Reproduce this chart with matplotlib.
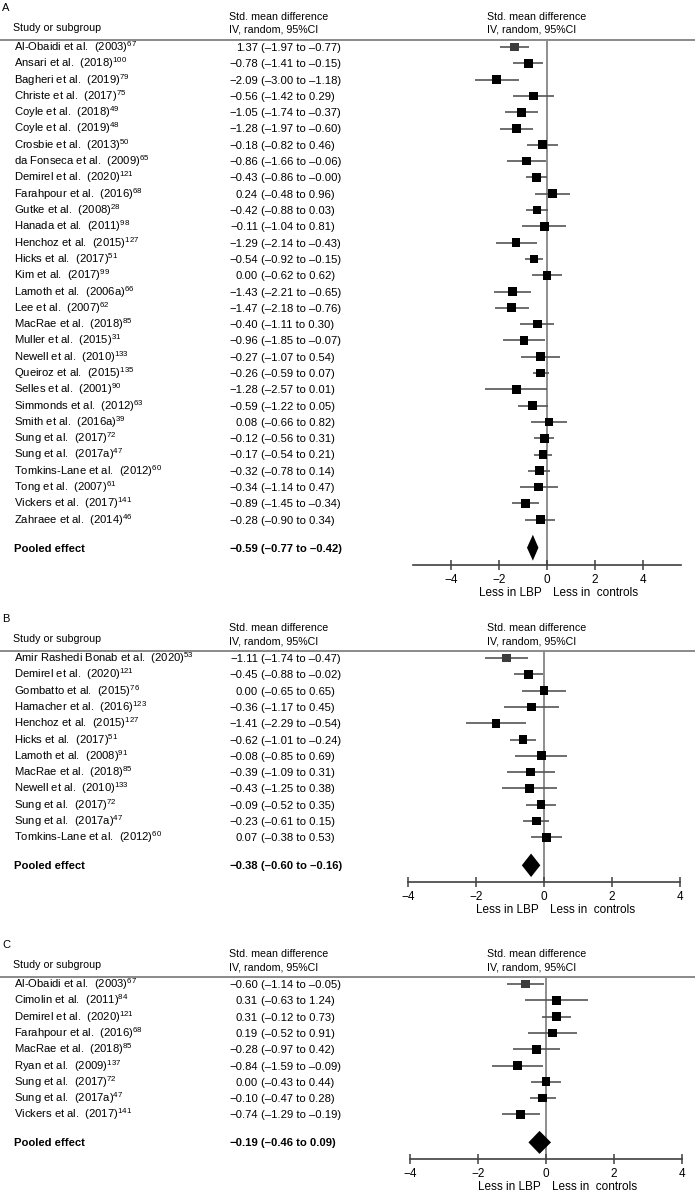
import math
import matplotlib
matplotlib.use("Agg")
import matplotlib.pyplot as plt
from matplotlib.transforms import blended_transform_factory
from matplotlib.patches import Polygon

plt.rcParams['font.family'] = ['Liberation Sans', 'DejaVu Sans']
plt.rcParams['mathtext.fontset'] = 'custom'
plt.rcParams['mathtext.rm'] = 'Liberation Sans'
plt.rcParams['mathtext.it'] = 'Liberation Sans:italic'
plt.rcParams['mathtext.bf'] = 'Liberation Sans:bold'

# ---------------- data ----------------
a_studies = ["Al-Obaidi et al.  (2003)", "Ansari et al.  (2018)", "Bagheri et al.  (2019)",
             "Christe et al.  (2017)", "Coyle et al.  (2018)", "Coyle et al.  (2019)",
             "Crosbie et al.  (2013)", "da Fonseca et al.  (2009)", "Demirel et al.  (2020)",
             "Farahpour et al.  (2016)", "Gutke et al.  (2008)", "Hanada et al.  (2011)",
             "Henchoz et al.  (2015)", "Hicks et al.  (2017)", "Kim et al.  (2017)",
             "Lamoth et al.  (2006a)", "Lee et al.  (2007)", "MacRae et al.  (2018)",
             "Muller et al.  (2015)", "Newell et al.  (2010)", "Queiroz et al.  (2015)",
             "Selles et al.  (2001)", "Simmonds et al.  (2012)", "Smith et al.  (2016a)",
             "Sung et al.  (2017)", "Sung et al.  (2017a)", "Tomkins-Lane et al.  (2012)",
             "Tong et al.  (2007)", "Vickers et al.  (2017)", "Zahraee et al.  (2014)"]
a_refs = [67, 100, 79, 75, 49, 48, 50, 65, 121, 68, 28, 98, 127, 51, 99, 66, 62, 85, 31, 133,
          135, 90, 63, 39, 72, 47, 60, 61, 141, 46]
a_est = [-1.37, -0.78, -2.09, -0.56, -1.05, -1.28, -0.18, -0.86, -0.43, 0.24, -0.42, -0.11,
         -1.29, -0.54, 0.00, -1.43, -1.47, -0.40, -0.96, -0.27, -0.26, -1.28, -0.59, 0.08,
         -0.12, -0.17, -0.32, -0.34, -0.89, -0.28]
a_lo = [-1.97, -1.41, -3.00, -1.42, -1.74, -1.97, -0.82, -1.66, -0.86, -0.48, -0.88, -1.04,
        -2.14, -0.92, -0.62, -2.21, -2.18, -1.11, -1.85, -1.07, -0.59, -2.57, -1.22, -0.66,
        -0.56, -0.54, -0.78, -1.14, -1.45, -0.90]
a_hi = [-0.77, -0.15, -1.18, 0.29, -0.37, -0.60, 0.46, -0.06, -0.0, 0.96, 0.03, 0.81,
        -0.43, -0.15, 0.62, -0.65, -0.76, 0.30, -0.07, 0.54, 0.07, 0.01, 0.05, 0.82,
        0.31, 0.21, 0.14, 0.47, -0.34, 0.34]
a_est_text_override = {0: "1.37"}   # as printed in the original table
a_pooled = (-0.59, -0.77, -0.42)

b_studies = ["Amir Rashedi Bonab et al.  (2020)", "Demirel et al.  (2020)", "Gombatto et al.  (2015)",
             "Hamacher et al.  (2016)", "Henchoz et al.  (2015)", "Hicks et al.  (2017)",
             "Lamoth et al.  (2008)", "MacRae et al.  (2018)", "Newell et al.  (2010)",
             "Sung et al.  (2017)", "Sung et al.  (2017a)", "Tomkins-Lane et al.  (2012)"]
b_refs = [53, 121, 76, 123, 127, 51, 91, 85, 133, 72, 47, 60]
b_est = [-1.11, -0.45, 0.00, -0.36, -1.41, -0.62, -0.08, -0.39, -0.43, -0.09, -0.23, 0.07]
b_lo = [-1.74, -0.88, -0.65, -1.17, -2.29, -1.01, -0.85, -1.09, -1.25, -0.52, -0.61, -0.38]
b_hi = [-0.47, -0.02, 0.65, 0.45, -0.54, -0.24, 0.69, 0.31, 0.38, 0.35, 0.15, 0.53]
b_pooled = (-0.38, -0.60, -0.16)

c_studies = ["Al-Obaidi et al.  (2003)", "Cimolin et al.  (2011)", "Demirel et al.  (2020)",
             "Farahpour et al.  (2016)", "MacRae et al.  (2018)", "Ryan et al.  (2009)",
             "Sung et al.  (2017)", "Sung et al.  (2017a)", "Vickers et al.  (2017)"]
c_refs = [67, 84, 121, 68, 85, 137, 72, 47, 141]
c_est = [-0.60, 0.31, 0.31, 0.19, -0.28, -0.84, 0.00, -0.10, -0.74]
c_lo = [-1.14, -0.63, -0.12, -0.52, -0.97, -1.59, -0.43, -0.47, -1.29]
c_hi = [-0.05, 1.24, 0.73, 0.91, 0.42, -0.09, 0.44, 0.28, -0.19]
c_pooled = (-0.19, -0.46, 0.09)

ticks = [-4, -2, 0, 2, 4]

# ---------------- drawing ----------------
W, H = 695, 1193
FS = 8.1
HFS = 7.7
ROW = 16.3

fig = plt.figure(figsize=(W / 100, H / 100), dpi=100)


def neg(v):
    return v < 0 or (v == 0 and math.copysign(1, v) < 0)


def fmt_est(v):
    return ("\u2212" if neg(v) else "") + f"{abs(v):.2f}"


def fmt_ci(v):
    return ("\u2013" if neg(v) else "") + f"{abs(v):.2f}"


def draw_panel(letter, studies, refs, est, lo, hi, pooled, first_px, x0_px, xscale,
               axis_bounds, overrides=None):
    overrides = overrides or {}
    ax = fig.add_axes([0, 0, 1, 1])
    ax.patch.set_alpha(0)
    ax.set_xlim(-x0_px / xscale, (W - x0_px) / xscale)
    ax.set_ylim((H - first_px) / ROW, -first_px / ROW)
    tr = blended_transform_factory(ax.transAxes, ax.transData)

    def fx(p):
        return p / W

    def dy(p):
        return p / ROW

    n = len(studies)
    ys = list(range(n))
    y_line = -dy(7)
    y_pool = n - 1 + dy(28)
    y_axis = y_pool + dy(17)
    base = dy(4)

    # headers
    ax.text(fx(2), y_line - dy(33) + base, letter, transform=tr, fontsize=HFS + 0.3,
            va='baseline')
    ax.text(fx(13), y_line - dy(13) + base, "Study or subgroup", transform=tr, fontsize=HFS,
            va='baseline')
    for xp in (229, 487):
        ax.text(fx(xp), y_line - dy(24) + base, "Std. mean difference", transform=tr,
                fontsize=HFS, va='baseline')
        ax.text(fx(xp), y_line - dy(11) + base, "IV, random, 95%CI", transform=tr,
                fontsize=HFS, va='baseline')
    ax.axhline(y_line, color='#8a8a8a', lw=1.4)

    # table rows
    for i in range(n):
        y = ys[i] + base
        ax.text(fx(14), y, studies[i] + r"$^{\mathrm{" + str(refs[i]) + "}}$", transform=tr,
                fontsize=FS, va='baseline')
        et = overrides.get(i, fmt_est(est[i]))
        ax.text(fx(258), y, et, transform=tr, fontsize=FS, va='baseline', ha='right')
        ax.text(fx(260.8), y, f"({fmt_ci(lo[i])} to {fmt_ci(hi[i])})", transform=tr,
                fontsize=FS, va='baseline', ha='left')
    pe, pl, ph = pooled
    ax.text(fx(14), y_pool + base, "Pooled effect", transform=tr, fontsize=FS,
            fontweight='bold', va='baseline')
    ax.text(fx(258), y_pool + base, fmt_est(pe), transform=tr, fontsize=FS,
            fontweight='bold', va='baseline', ha='right')
    ax.text(fx(260.8), y_pool + base, f"({fmt_ci(pl)} to {fmt_ci(ph)})", transform=tr,
            fontsize=FS, fontweight='bold', va='baseline', ha='left')

    # forest plot
    ax.plot([0, 0], [y_line, y_axis], color='#7a7a7a', lw=1.2, zorder=1)
    ax.hlines(ys, lo, hi, color='#555555', lw=1.2, zorder=2)
    colors = ['#3c3c3c'] + ['black'] * (n - 1)
    ax.scatter(est, ys, marker='s', s=40, c=colors, linewidths=0, zorder=3)
    h = dy(9.5)
    ax.add_patch(Polygon([(pl, y_pool), (pe, y_pool - h), (ph, y_pool), (pe, y_pool + h)],
                         closed=True, fc='black', ec='black', lw=2.0, joinstyle='miter',
                         zorder=3))

    # axis
    for s in ('top', 'left', 'right'):
        ax.spines[s].set_visible(False)
    sp = ax.spines['bottom']
    sp.set_position(('data', y_axis))
    sp.set_bounds(*axis_bounds)
    sp.set_color('#404040')
    sp.set_linewidth(1.2)
    ax.set_yticks([])
    ax.set_xticks(ticks)
    ax.tick_params(axis='x', direction='inout', length=7, width=1.1, color='#404040',
                   labelsize=FS + 0.4, pad=3)
    ax.text(-5 / xscale, y_axis + dy(27) + base, "Less in LBP", fontsize=FS + 0.4,
            ha='right', va='baseline')
    ax.text(6 / xscale, y_axis + dy(27) + base, "Less in  controls", fontsize=FS + 0.4,
            ha='left', va='baseline')


draw_panel("A", a_studies, a_refs, a_est, a_lo, a_hi, a_pooled, 47, 547, 24.0, (-5.6, 5.6),
           a_est_text_override)
draw_panel("B", b_studies, b_refs, b_est, b_lo, b_hi, b_pooled, 658, 544, 34.0, (-4, 4))
draw_panel("C", c_studies, c_refs, c_est, c_lo, c_hi, c_pooled, 984, 546, 34.0, (-4, 4))

fig.savefig("out.png", dpi=100)
